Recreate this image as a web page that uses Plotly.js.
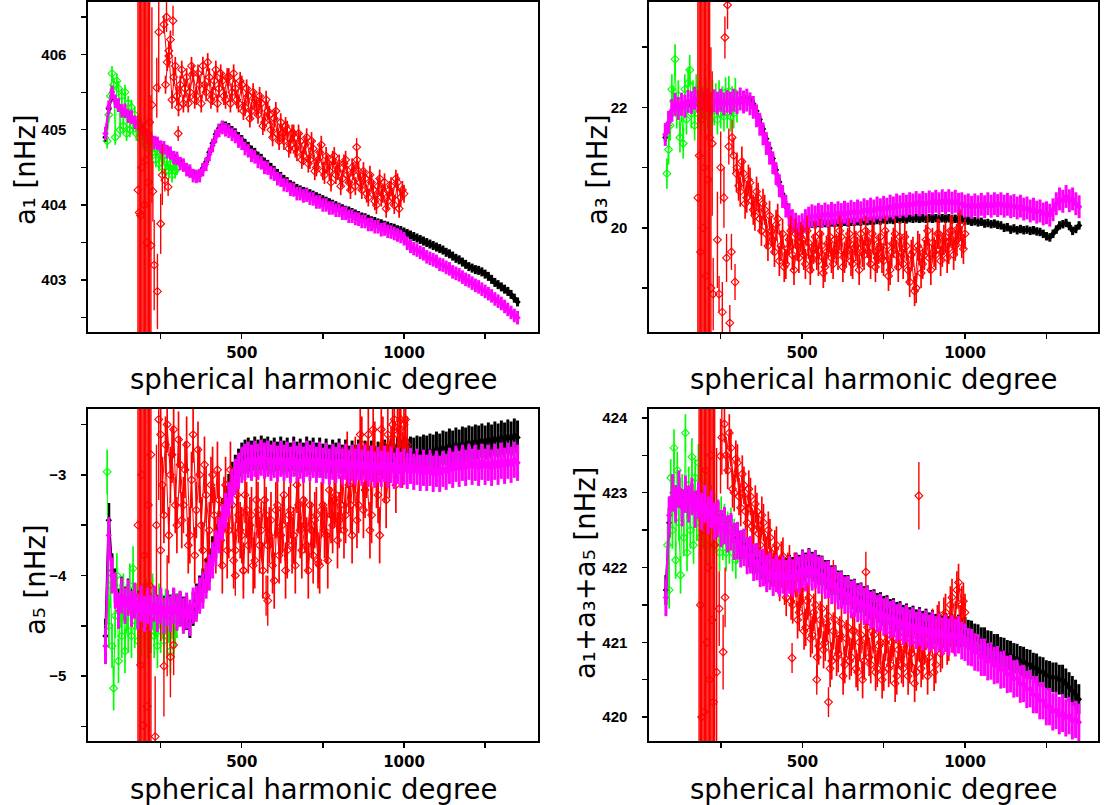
<!DOCTYPE html>
<html><head><meta charset="utf-8">
<script src="https://cdn.plot.ly/plotly-3.0.1.min.js"></script>
<style>html,body{margin:0;padding:0;background:#fff}#chart{width:1104px;height:805px}</style>
</head><body><div id="chart"></div>
<script>
// ---------- DATA ----------
// spherical harmonic degree grid for the black and magenta series
const L = [80,90,100,110,120,130,140,150,160,170,
180,190,200,210,220,230,240,250,260,270,
280,290,300,310,320,330,340,350,360,370,
380,390,400,410,420,430,440,450,460,470,
480,490,500,510,520,530,540,550,560,570,
580,590,600,610,620,630,640,650,660,670,
680,690,700,710,720,730,740,750,760,770,
780,790,800,810,820,830,840,850,860,870,
880,890,900,910,920,930,940,950,960,970,
980,990,1000,1010,1020,1030,1040,1050,1060,1070,
1080,1090,1100,1110,1120,1130,1140,1150,1160,1170,
1180,1190,1200,1210,1220,1230,1240,1250,1260,1270,
1280,1290,1300,1310,1320,1330,1340,1350];
// degree grid for the green series
const LG = [85,90,95,100,105,110,115,120,125,130,
135,140,145,150,155,160,165,170,175,180,
185,190,195,200,205,210,215,220,225,230,
235,240,245,250,255,260,265,270,275,280,
285,290,295,300];
// degree grids for the red series (two interleaved sets)
const LR1 = [260,270,280,290,300,310,320,330,340,350,360,370,380,390,400,410,420,430,440,450,460,470,480,490,500,510,520,530,540,550,560,570,580,590,600,610,620,630,640,650,660,670,680,690,700,710,720,730,740,750,760,770,780,790,800,810,820,830,840,850,860,870,880,890,900,910,920,930,940,950,960,970,980,990,1000];
const LR1b = [265,275,285,295,305,315,325,335,345,355,365,375,385,395,405,415,425,435,445,455,465,475,485,495,505,515,525,535,545,555,565,575,585,595,605,615,625,635,645,655,665,675,685,695,705,715,725,735,745,755,765,775,785,795,805,815,825,835,845,855,865,875,885,895,905,915,925,935,945,955,965,975,985,995];
const LR2 = [300,310,320,330,340,350,360,370,380,390,400,410,420,430,440,450,460,470,480,490,500,510,520,530,540,550,560,570,580,590,600,610,620,630,640,650,660,670,680,690,700,710,720,730,740,750,760,770,780,790,800,810,820,830,840,850,860,870,880,890,900,910,920,930,940,950,960,970,980,990,1000];
const LR2b = [305,315,325,335,345,355,365,375,385,395,405,415,425,435,445,455,465,475,485,495,505,515,525,535,545,555,565,575,585,595,605,615,625,635,645,655,665,675,685,695,705,715,725,735,745,755,765,775,785,795,805,815,825,835,845,855,865,875,885,895,905,915,925,935,945,955,965,975,985,995];
const LR3 = [250,260,270,280,290,300,310,320,330,340,350,360,370,380,390,400,410,420,430,440,450,460,470,480,490,500,510,520,530,540,550,560,570,580,590,600,610,620,630,640,650,660,670,680,690,700,710,720,730,740,750,760,770,780,790,800,810,820,830,840,850,860,870,880,890,900,910,920,930,940,950,960,970,980,990,1000,1010];
const LR3b = [255,265,275,285,295,305,315,325,335,345,355,365,375,385,395,405,415,425,435,445,455,465,475,485,495,505,515,525,535,545,555,565,575,585,595,605,615,625,635,645,655,665,675,685,695,705,715,725,735,745,755,765,775,785,795,805,815,825,835,845,855,865,875,885,895,905,915,925,935,945,955,965,975,985,995,1005];

// ---- a1 ----
const a1Black = [404.90,405.28,405.45,405.40,405.30,405.27,405.22,405.19,405.14,405.11,
405.07,405.03,404.97,404.93,404.88,404.85,404.81,404.79,404.75,404.72,
404.68,404.65,404.61,404.57,404.53,404.49,404.44,404.41,404.38,404.41,
404.49,404.57,404.70,404.82,404.94,405.02,405.06,405.05,405.03,404.99,
404.96,404.91,404.87,404.82,404.78,404.73,404.70,404.65,404.62,404.57,
404.54,404.50,404.46,404.42,404.38,404.34,404.31,404.27,404.25,404.22,
404.20,404.18,404.17,404.15,404.13,404.11,404.09,404.07,404.05,404.03,
404.01,403.99,403.97,403.95,403.93,403.92,403.90,403.88,403.86,403.84,
403.83,403.81,403.79,403.78,403.76,403.75,403.73,403.72,403.70,403.69,
403.67,403.66,403.64,403.62,403.60,403.58,403.56,403.54,403.52,403.50,
403.48,403.46,403.44,403.42,403.40,403.37,403.35,403.32,403.29,403.27,
403.24,403.21,403.18,403.16,403.14,403.13,403.11,403.08,403.05,403.01,
402.97,402.94,402.91,402.88,402.85,402.81,402.76,402.71];
const a1Magenta = [404.95,405.30,405.50,405.38,405.33,405.25,405.26,405.18,405.17,405.10,
405.09,405.02,404.98,404.91,404.89,404.83,404.82,404.77,404.76,404.71,
404.69,404.63,404.62,404.55,404.53,404.47,404.45,404.39,404.38,404.39,
404.47,404.54,404.67,404.79,404.91,404.99,405.03,405.00,404.98,404.94,
404.91,404.85,404.82,404.75,404.72,404.66,404.64,404.58,404.56,404.50,
404.49,404.43,404.41,404.35,404.33,404.27,404.26,404.21,404.20,404.15,
404.15,404.12,404.13,404.09,404.08,404.04,404.04,404.00,404.00,403.96,
403.96,403.93,403.93,403.89,403.89,403.85,403.85,403.82,403.81,403.78,
403.78,403.74,403.74,403.71,403.71,403.67,403.68,403.65,403.64,403.62,
403.60,403.58,403.55,403.49,403.45,403.42,403.40,403.37,403.35,403.31,
403.29,403.27,403.25,403.21,403.20,403.17,403.15,403.11,403.09,403.07,
403.04,403.01,402.99,402.96,402.93,402.91,402.88,402.85,402.82,402.79,
402.75,402.72,402.69,402.65,402.61,402.57,402.53,402.50];
const a1Green = [404.85,405.20,405.45,405.75,405.60,404.90,405.65,405.55,405.00,405.45,
405.05,405.50,404.95,405.35,405.00,405.30,405.05,405.20,404.95,405.10,
404.90,405.05,404.85,404.95,404.80,404.90,404.75,404.85,404.70,404.80,
404.60,404.75,404.55,404.70,404.50,404.65,404.45,404.60,404.45,404.55,
404.40,404.55,404.45,404.50];
const a1Red = [406.40,405.90,406.20,405.70,405.45,405.60,405.35,405.70,405.50,405.75,
405.45,405.60,405.85,405.50,405.70,405.45,405.80,405.55,405.65,405.40,
405.70,405.50,405.55,405.35,405.60,405.30,405.45,405.25,405.40,405.20,
405.35,405.10,405.25,405.00,405.15,404.95,405.10,404.85,405.00,404.80,
404.95,404.70,404.85,404.65,404.90,404.60,404.75,404.50,404.70,404.45,
404.65,404.45,404.60,404.40,404.55,404.35,404.60,404.30,404.50,404.25,
404.45,404.20,404.35,404.10,404.30,404.05,404.25,404.10,404.30,404.05,
404.25,404.00,404.30,404.10,404.15];
const a1Red2 = [405.60,406.05,405.40,405.85,405.30,405.80,405.55,405.35,405.85,405.40,
405.75,405.35,405.60,405.90,405.40,405.65,405.35,405.75,405.45,405.70,
405.35,405.75,405.40,405.65,405.25,405.55,405.15,405.50,405.30,405.45,
405.05,405.40,405.20,404.90,405.25,404.85,404.95,405.05,404.75,404.95,
404.75,404.95,404.60,404.80,404.55,404.85,404.45,404.60,404.80,404.40,
404.55,404.30,404.65,404.45,404.25,404.55,404.40,404.20,404.45,404.60,
404.30,404.45,404.15,404.40,404.20,404.00,404.35,404.15,403.95,404.20,
404.10,404.35,403.95,404.20];
const a1RedExtraL = [180,184,188,192,196,200,204,208,212,216,220,223,226,230,238,240,244,250,255,263,268,273,275,288,304,854];
const a1RedExtraY = [404.2,403.9,403.86,404.5,405.0,404.0,404.6,403.5,404.3,405.1,403.46,405.33,404.18,403.2,405.56,402.85,406.3,403.75,404.4,404.33,406.5,404.24,405.98,406.45,404.95,404.77];
const a1RedExtraErr = [6,6,5,6,5,6,6,5,5,4,2,1.3,0.4,0.6,0.4,0.5,0.8,0.4,0.4,0.15,0.2,0.12,0.15,0.2,0.1,0.12];

// ---- a3 ----
const a3Black = [21.50,21.70,21.90,22.00,22.00,22.02,22.04,22.06,22.08,22.10,
22.08,22.10,22.10,22.09,22.08,22.09,22.08,22.09,22.08,22.09,
22.08,22.10,22.10,22.12,22.12,22.14,22.12,22.06,21.94,21.80,
21.64,21.48,21.32,21.15,20.96,20.76,20.56,20.38,20.22,20.10,
20.00,19.95,19.97,20.02,20.05,20.07,20.06,20.08,20.07,20.08,
20.07,20.09,20.08,20.09,20.08,20.10,20.09,20.10,20.10,20.11,
20.10,20.12,20.11,20.12,20.12,20.13,20.12,20.14,20.13,20.14,
20.13,20.15,20.14,20.15,20.14,20.16,20.15,20.16,20.15,20.16,
20.15,20.16,20.15,20.16,20.15,20.16,20.15,20.16,20.14,20.15,
20.13,20.14,20.12,20.12,20.10,20.11,20.09,20.10,20.07,20.08,
20.06,20.07,20.05,20.04,20.00,20.01,19.97,19.99,19.96,19.98,
19.96,19.97,19.95,19.96,19.94,19.93,19.90,19.86,19.84,19.90,
19.97,20.04,20.06,20.08,20.03,19.95,19.98,20.04];
const a3Magenta = [21.55,21.75,21.95,22.05,21.98,22.05,22.02,22.10,22.08,22.15,
22.10,22.13,22.08,22.12,22.06,22.11,22.07,22.12,22.06,22.10,
22.07,22.12,22.08,22.14,22.09,22.12,22.06,22.00,21.86,21.72,
21.56,21.40,21.24,21.08,20.90,20.70,20.52,20.36,20.22,20.12,
20.06,20.02,20.05,20.12,20.16,20.20,20.18,20.22,20.19,20.23,
20.20,20.24,20.21,20.25,20.22,20.26,20.23,20.27,20.24,20.28,
20.25,20.30,20.27,20.31,20.28,20.33,20.30,20.34,20.31,20.36,
20.33,20.38,20.35,20.39,20.36,20.40,20.38,20.42,20.38,20.42,
20.39,20.43,20.40,20.44,20.40,20.45,20.41,20.45,20.41,20.44,
20.39,20.40,20.36,20.38,20.34,20.38,20.35,20.39,20.35,20.40,
20.36,20.40,20.37,20.40,20.36,20.39,20.35,20.37,20.33,20.36,
20.31,20.33,20.28,20.31,20.26,20.28,20.23,20.25,20.21,20.30,
20.40,20.48,20.44,20.52,20.45,20.48,20.40,20.35];
const a3Green = [20.90,21.30,21.70,22.30,22.10,22.80,21.90,22.20,21.50,22.00,
21.40,22.30,21.80,22.40,22.62,21.90,22.20,21.70,22.30,21.90,
22.20,21.80,22.10,21.85,22.25,21.90,22.10,21.80,22.20,21.95,
22.15,21.80,22.20,21.90,22.10,21.85,22.25,21.90,22.27,21.85,
22.10,21.90,22.24,22.00];
const a3Red = [21.00,20.60,20.90,20.50,20.75,20.30,20.60,20.15,20.40,19.90,
20.20,19.80,20.05,19.45,19.90,19.40,19.80,19.55,19.90,19.50,
19.80,19.40,19.75,19.50,19.85,19.45,19.70,19.35,19.75,19.50,
19.80,19.55,19.85,19.50,19.75,19.45,19.80,19.60,19.90,19.55,
19.75,19.40,19.80,19.50,19.85,19.45,19.70,19.30,19.75,19.55,
19.85,19.40,19.70,19.10,19.60,19.00,19.65,19.40,19.80,19.50,
19.75,19.55,19.90,19.60,19.85,19.65,19.95,19.70,20.00,19.75,
19.90];
const a3Red2 = [20.70,21.10,20.40,20.80,20.45,20.20,20.50,19.95,20.30,19.70,
19.95,19.60,20.15,19.70,19.35,19.65,19.95,19.30,19.70,19.85,
19.55,19.95,19.30,19.65,19.55,19.90,19.25,19.60,19.85,19.40,
19.65,19.95,19.35,19.60,19.90,19.40,19.70,19.30,19.60,19.95,
19.60,19.90,19.35,19.65,19.50,19.95,19.20,19.60,19.90,19.35,
19.60,19.85,19.30,19.55,18.95,19.70,19.25,19.55,19.95,19.30,
19.60,19.90,19.45,19.80,19.50,19.95,19.55,19.80,20.05,19.65];
const a3RedExtraL = [180,184,188,192,196,200,204,208,212,216,220,224,227,240,245,250,255,260,263,268,271,275,278,283,285,290,294,298];
const a3RedExtraY = [20.5,21.2,19.6,21.8,20.0,21.0,19.2,22.0,20.8,21.5,19.0,21.4,18.9,19.8,18.9,21.0,18.6,20.5,23.16,19.5,23.7,21.35,18.42,19.6,21.5,21.2,19.1,20.9];
const a3RedExtraErr = [8,8,8,8,6,8,7,8,6,5,4,1.2,0.6,0.8,0.3,0.6,0.5,0.5,0.35,0.4,0.4,0.3,0.3,0.3,0.3,0.3,0.3,0.3];

// ---- a5 ----
const a5Black = [-4.60,-3.45,-3.95,-4.10,-4.30,-4.18,-4.28,-4.20,-4.30,-4.25,
-4.32,-4.27,-4.35,-4.30,-4.35,-4.28,-4.36,-4.30,-4.37,-4.32,
-4.36,-4.30,-4.35,-4.33,-4.38,-4.37,-4.45,-4.33,-4.25,-4.17,
-4.10,-4.00,-3.90,-3.78,-3.66,-3.53,-3.40,-3.28,-3.16,-3.04,
-2.97,-2.91,-2.85,-2.82,-2.80,-2.83,-2.79,-2.82,-2.78,-2.81,
-2.79,-2.83,-2.80,-2.84,-2.79,-2.83,-2.80,-2.85,-2.79,-2.84,
-2.81,-2.85,-2.79,-2.83,-2.80,-2.85,-2.80,-2.86,-2.81,-2.87,
-2.82,-2.85,-2.81,-2.87,-2.82,-2.88,-2.83,-2.87,-2.82,-2.88,
-2.83,-2.88,-2.83,-2.89,-2.84,-2.87,-2.82,-2.87,-2.81,-2.86,
-2.80,-2.82,-2.79,-2.81,-2.79,-2.80,-2.78,-2.79,-2.77,-2.78,
-2.76,-2.77,-2.74,-2.76,-2.73,-2.74,-2.71,-2.73,-2.70,-2.72,
-2.69,-2.70,-2.68,-2.69,-2.67,-2.68,-2.66,-2.68,-2.65,-2.67,
-2.64,-2.66,-2.63,-2.65,-2.62,-2.64,-2.61,-2.63];
const a5Magenta = [-4.70,-3.60,-4.00,-4.15,-4.35,-4.20,-4.30,-4.22,-4.33,-4.25,
-4.36,-4.28,-4.38,-4.30,-4.37,-4.28,-4.38,-4.30,-4.40,-4.32,
-4.38,-4.30,-4.37,-4.33,-4.40,-4.35,-4.42,-4.30,-4.28,-4.20,
-4.15,-4.05,-3.97,-3.85,-3.73,-3.60,-3.47,-3.36,-3.25,-3.12,
-3.02,-2.96,-2.90,-2.87,-2.85,-2.88,-2.84,-2.87,-2.83,-2.86,
-2.84,-2.88,-2.85,-2.89,-2.84,-2.88,-2.85,-2.90,-2.84,-2.89,
-2.86,-2.90,-2.84,-2.88,-2.85,-2.90,-2.85,-2.91,-2.86,-2.92,
-2.87,-2.90,-2.86,-2.92,-2.87,-2.93,-2.88,-2.92,-2.87,-2.93,
-2.88,-2.94,-2.89,-2.95,-2.90,-2.94,-2.89,-2.95,-2.90,-2.96,
-2.91,-2.95,-2.92,-2.96,-2.91,-2.97,-2.92,-2.98,-2.93,-2.98,
-2.93,-2.99,-2.94,-2.99,-2.94,-2.97,-2.91,-2.95,-2.89,-2.94,
-2.88,-2.93,-2.87,-2.92,-2.88,-2.93,-2.87,-2.92,-2.88,-2.93,
-2.87,-2.92,-2.86,-2.91,-2.86,-2.90,-2.85,-2.88];
const a5Green = [-2.97,-4.50,-4.10,-4.70,-5.12,-4.40,-4.00,-4.85,-4.30,-4.60,
-4.20,-4.75,-4.35,-4.55,-4.10,-4.60,-3.93,-4.50,-4.30,-4.65,
-4.40,-4.58,-4.30,-4.50,-4.25,-4.60,-4.35,-4.55,-4.20,-4.60,
-4.40,-4.70,-4.30,-4.55,-4.40,-4.65,-4.35,-4.60,-4.45,-4.75,
-4.40,-4.60,-4.50,-4.40];
const a5Red = [-2.60,-3.40,-2.50,-3.00,-2.55,-3.50,-2.90,-3.30,-2.70,-3.60,
-2.60,-3.35,-3.00,-3.75,-3.20,-3.55,-3.00,-3.70,-3.25,-3.90,
-3.10,-3.55,-3.30,-3.75,-3.40,-3.60,-3.20,-3.70,-3.40,-3.85,
-3.35,-3.55,-3.25,-3.70,-3.45,-4.05,-3.30,-3.60,-3.20,-3.75,
-3.35,-3.60,-3.10,-3.55,-3.25,-3.70,-3.30,-3.80,-3.40,-3.90,
-3.30,-3.60,-3.15,-3.50,-3.20,-3.45,-3.00,-3.40,-3.10,-3.60,
-2.90,-3.30,-2.70,-3.15,-2.60,-3.40,-2.75,-3.20,-2.55,-3.00,
-2.60,-2.80,-2.45,-2.60,-2.45,-2.50,-2.70];
const a5Red2 = [-3.10,-2.70,-3.60,-2.80,-3.30,-2.65,-3.45,-2.95,-3.70,-3.05,
-3.80,-2.75,-3.50,-2.90,-3.85,-3.10,-3.40,-2.95,-3.65,-3.30,
-3.75,-2.95,-3.85,-3.20,-3.55,-3.95,-3.35,-3.50,-3.90,-3.25,
-3.70,-3.95,-3.40,-3.60,-3.90,-3.35,-3.80,-3.50,-3.95,-3.40,
-3.70,-3.90,-3.30,-3.75,-3.50,-3.95,-3.55,-3.45,-3.85,-3.35,
-3.55,-3.85,-3.40,-3.25,-3.65,-3.30,-3.55,-2.85,-3.30,-3.00,
-3.45,-2.60,-3.35,-2.95,-3.55,-2.55,-3.05,-3.60,-2.70,-3.25,
-2.95,-2.50,-3.10,-2.55,-2.85,-2.45];
const a5RedExtraL = [180,184,188,192,196,200,204,208,212,216,220,233,237,244,250,260,270,280,290,480,505,575,580,736];
const a5RedExtraY = [-3.5,-4.2,-4.89,-3.0,-5.49,-3.8,-4.5,-5.3,-3.3,-4.1,-2.8,-5.6,-3.5,-2.45,-3.75,-4.9,-4.4,-4.81,-4.69,-4.0,-3.95,-4.2,-4.25,-3.88];
const a5RedExtraErr = [6,6,6,6,5,6,6,5,6,5,4,0.6,0.8,0.8,0.9,0.5,0.6,0.4,0.3,0.2,0.2,0.2,0.25,0.2];

// ---- a1+a3+a5 ----
const sumBlack = [421.70,422.60,422.95,422.90,423.00,422.85,422.95,422.88,422.92,422.82,
422.88,422.78,422.84,422.73,422.78,422.66,422.68,422.56,422.58,422.48,
422.50,422.39,422.40,422.29,422.31,422.20,422.21,422.11,422.12,422.04,
422.05,421.98,422.00,421.94,421.97,421.93,421.96,421.93,421.97,421.94,
422.00,421.97,422.04,422.00,422.06,422.01,422.03,421.97,421.96,421.90,
421.90,421.83,421.83,421.76,421.76,421.70,421.70,421.64,421.65,421.59,
421.60,421.55,421.56,421.50,421.51,421.46,421.47,421.42,421.43,421.38,
421.39,421.34,421.35,421.30,421.32,421.27,421.29,421.24,421.27,421.22,
421.25,421.20,421.23,421.18,421.21,421.16,421.19,421.15,421.18,421.14,
421.17,421.13,421.14,421.10,421.09,421.05,421.04,421.00,421.00,420.96,
420.95,420.91,420.91,420.87,420.86,420.83,420.82,420.79,420.78,420.75,
420.74,420.71,420.70,420.66,420.65,420.61,420.60,420.56,420.55,420.53,
420.53,420.50,420.50,420.45,420.40,420.35,420.30,420.24];
const sumMagenta = [421.60,422.70,423.00,422.85,423.05,422.80,422.98,422.85,422.95,422.78,
422.90,422.75,422.85,422.70,422.78,422.62,422.66,422.52,422.56,422.45,
422.48,422.35,422.36,422.25,422.27,422.16,422.17,422.07,422.08,421.99,
422.00,421.92,421.95,421.87,421.92,421.86,421.90,421.85,421.90,421.86,
421.94,421.90,421.98,421.93,422.00,421.94,421.97,421.90,421.90,421.83,
421.84,421.76,421.77,421.69,421.70,421.63,421.64,421.57,421.59,421.52,
421.54,421.48,421.50,421.43,421.44,421.38,421.40,421.34,421.36,421.30,
421.32,421.26,421.28,421.22,421.25,421.19,421.22,421.16,421.20,421.14,
421.18,421.12,421.16,421.10,421.14,421.08,421.12,421.07,421.11,421.06,
421.10,421.02,421.00,420.94,420.93,420.87,420.86,420.80,420.80,420.74,
420.75,420.69,420.70,420.63,420.64,420.57,420.58,420.51,420.52,420.44,
420.45,420.37,420.38,420.30,420.30,420.22,420.22,420.14,420.14,420.07,
420.09,420.02,420.05,419.99,420.02,419.95,419.97,419.93];
const sumGreen = [422.30,421.70,423.20,422.50,423.60,422.10,423.30,422.60,421.90,423.00,
422.40,423.80,422.20,423.10,422.50,423.48,422.30,423.20,422.60,423.40,
422.40,423.10,422.50,422.95,422.30,423.00,422.50,422.85,422.30,422.75,
422.45,422.65,422.20,422.70,422.35,422.60,422.20,422.50,422.30,422.55,
422.20,422.40,422.10,422.30];
const sumRed = [423.92,423.30,423.60,423.00,423.40,422.80,423.10,422.60,422.95,422.50,
422.75,422.30,422.60,422.15,422.40,421.95,422.30,421.80,422.15,421.60,
422.05,421.50,421.85,421.40,421.75,421.20,421.60,421.10,421.50,420.95,
421.45,421.00,421.35,420.75,421.30,420.85,421.25,420.70,421.20,420.80,
421.15,420.60,421.10,420.75,421.20,420.70,421.10,420.65,421.00,420.60,
421.10,420.70,421.05,420.55,421.00,420.65,421.05,420.70,421.10,420.60,
421.00,420.75,421.15,420.80,421.20,420.70,421.30,420.90,421.40,421.00,
421.60,421.30,421.80,421.50,421.40];
const sumRed2 = [423.50,423.80,423.05,423.45,422.95,423.25,422.75,423.05,422.55,422.85,
422.45,422.70,422.20,422.50,422.00,422.25,421.90,422.10,421.75,421.95,
421.55,421.95,421.30,421.70,421.15,421.55,421.05,421.40,420.80,421.30,
420.90,421.25,420.65,421.15,420.80,421.10,420.55,421.05,420.75,421.15,
420.65,421.00,420.50,421.05,420.80,421.15,420.60,420.95,420.50,421.00,
420.65,421.00,420.45,420.90,420.70,421.10,420.55,420.85,420.45,421.00,
420.65,420.95,420.55,421.10,420.60,421.25,420.85,421.35,420.95,421.50,
421.10,421.70,421.25,421.55];
const sumRedExtraL = [182,186,190,194,198,202,206,210,214,218,222,226,230,236,244,248,252,256,262,468,544,580,595,695,858];
const sumRedExtraY = [423.0,421.5,420.0,422.5,420.07,423.3,421.0,422.0,420.5,423.5,421.3,420.2,422.3,420.6,421.45,423.49,423.74,420.87,421.6,420.79,420.5,420.2,421.9,421.94,422.96];
const sumRedExtraErr = [6,6,6,6,5,6,6,6,5,5,5,4,4,3,0.5,0.5,0.5,0.5,0.4,0.2,0.2,0.2,0.2,0.27,0.45];

// typical error bar half-lengths (nHz) per series
const errA1 = {black:0.06, magenta:0.09, green:0.10, red:0.12};
const errA3 = {black:0.07, magenta:0.19, green:0.25, red:0.25};
const errA5 = {black:0.17, magenta:0.18, green:0.22, red:0.28};
const errSum = {black:0.20, magenta:0.25, green:0.25, red:0.25};

// axis titles and labels
const xTitle = 'spherical harmonic degree';
const yTitles = ['a\u2081 [nHz]', 'a\u2083 [nHz]', 'a\u2085 [nHz]', 'a\u2081+a\u2083+a\u2085 [nHz]'];

// ---------- STYLE / BUILD ----------
const COL = {black:'#000000', green:'#00ff00', red:'#ff0000', magenta:'#ff00ff'};

function series(x, y, err, color, xa, ya, kind) {
  const eb = Array.isArray(err)
    ? {type:'data', array:err, visible:true}
    : {type:'constant', value:err, visible:true};
  Object.assign(eb, {color:color, thickness:(kind === 'band' ? 3 : (kind === 'cloud' ? 1.7 : 1.4)), width:0});
  const t = {type:'scatter', x:x, y:y, xaxis:xa, yaxis:ya, error_y:eb,
    hoverinfo:'skip', showlegend:false};
  if (kind === 'band') {
    t.mode = 'lines+markers';
    t.line = {color:color, width:2.5};
    t.marker = {symbol:'diamond', size:5, color:color};
  } else if (kind === 'cloud') {
    t.mode = 'lines+markers';
    t.line = {color:color, width:1};
    t.marker = {symbol:'diamond-open', size:6, color:color, line:{width:1.1, color:color}};
  } else {
    t.mode = 'markers';
    t.marker = {symbol:'diamond-open', size:6, color:color, line:{width:1.1, color:color}};
  }
  return t;
}

function panel(xa, ya, d, e, redOnTop) {
  const t = [];
  t.push(series(L, d.blk, e.black, COL.black, xa, ya, 'band'));
  t.push(series(LG, d.grn, e.green, COL.green, xa, ya, 'cloud'));
  const m = series(L, d.mag, e.magenta, COL.magenta, xa, ya, 'band');
  const r1 = series(d.rl, d.red, e.red, COL.red, xa, ya, 'cloud');
  const r2 = series(d.rl2, d.red2, e.red, COL.red, xa, ya, 'cloud');
  const r3 = series(d.rxl, d.rxy, d.rxe, COL.red, xa, ya, 'pts');
  if (redOnTop) { t.push(m, r1, r2, r3); } else { t.push(r1, r2, r3, m); }
  return t;
}

const traces = [].concat(
  panel('x','y', {blk:a1Black, mag:a1Magenta, grn:a1Green, rl:LR1, red:a1Red, rl2:LR1b, red2:a1Red2,
    rxl:a1RedExtraL, rxy:a1RedExtraY, rxe:a1RedExtraErr}, errA1, true),
  panel('x2','y2', {blk:a3Black, mag:a3Magenta, grn:a3Green, rl:LR2, red:a3Red, rl2:LR2b, red2:a3Red2,
    rxl:a3RedExtraL, rxy:a3RedExtraY, rxe:a3RedExtraErr}, errA3, true),
  panel('x3','y3', {blk:a5Black, mag:a5Magenta, grn:a5Green, rl:LR3, red:a5Red, rl2:LR3b, red2:a5Red2,
    rxl:a5RedExtraL, rxy:a5RedExtraY, rxe:a5RedExtraErr}, errA5, false),
  panel('x4','y4', {blk:sumBlack, mag:sumMagenta, grn:sumGreen, rl:LR1, red:sumRed, rl2:LR1b, red2:sumRed2,
    rxl:sumRedExtraL, rxy:sumRedExtraY, rxe:sumRedExtraErr}, errSum, false)
);

const W = 1104, H = 805;
const tickMinor = (d) => ({dtick:d, ticks:'outside', ticklen:5, tickwidth:1.4, tickcolor:'#000', showgrid:false});
function xax(domain, range, anchor) {
  return {domain:domain, range:range, anchor:anchor, showgrid:false, zeroline:false,
    showline:true, mirror:true, linecolor:'#000', linewidth:1.6,
    ticks:'outside', ticklen:5, tickwidth:1.4, tickcolor:'#000',
    tickmode:'linear', tick0:0, dtick:500, minor:tickMinor(250),
    ticklabelstandoff:1,
    tickfont:{family:'DejaVu Sans', size:15, color:'#000', weight:'bold'}, fixedrange:true};
}
function yax(domain, range, anchor, dtick, minor) {
  return {domain:domain, range:range, anchor:anchor, showgrid:false, zeroline:false,
    showline:true, mirror:true, linecolor:'#000', linewidth:1.6,
    ticks:'outside', ticklen:5, tickwidth:1.4, tickcolor:'#000',
    tickmode:'linear', tick0:0, dtick:dtick, minor:tickMinor(minor),
    ticklabelstandoff:12,
    tickfont:{family:'Liberation Sans', size:15, color:'#000', weight:'bold'}, fixedrange:true};
}

const dxL = [88/W, 538/W], dxR = [649/W, 1098/W];
const dyT = [1-332/H, 1-2/H], dyB = [1-741/H, 1-409/H];

const titleFont = {family:'DejaVu Sans', size:27.5, color:'#000'};
function ann(text, px, py, angle) {
  return {text:text, xref:'paper', yref:'paper', x:px/W, y:1-py/H,
    xanchor:'center', yanchor:'middle', showarrow:false, textangle:angle||0, font:titleFont, borderpad:0};
}

const layout = {
  width:W, height:H, margin:{l:0, r:0, t:0, b:0},
  paper_bgcolor:'#fff', plot_bgcolor:'#fff', showlegend:false,
  xaxis:xax(dxL, [26,1413], 'y'),
  yaxis:yax(dyT, [402.31,406.70], 'x', 1, 0.5),
  xaxis2:xax(dxR, [30,1408], 'y2'),
  yaxis2:yax(dyT, [18.27,23.75], 'x2', 2, 1),
  xaxis3:xax(dxL, [26,1413], 'y3'),
  yaxis3:yax(dyB, [-5.644,-2.346], 'x3', 1, 0.5),
  xaxis4:xax(dxR, [28,1409], 'y4'),
  yaxis4:yax(dyB, [419.68,424.12], 'x4', 1, 0.5),
  annotations:[
    ann(xTitle, 313, 379),
    ann(xTitle, 873.5, 379),
    ann(xTitle, 313, 789),
    ann(xTitle, 873.5, 789),
    ann(yTitles[0], 25, 170, -90),
    ann(yTitles[1], 597, 170, -90),
    ann(yTitles[2], 35, 580, -90),
    ann(yTitles[3], 585, 573, -90)
  ]
};

Plotly.newPlot('chart', traces, layout, {staticPlot:true, displayModeBar:false});
</script>
</body></html>
